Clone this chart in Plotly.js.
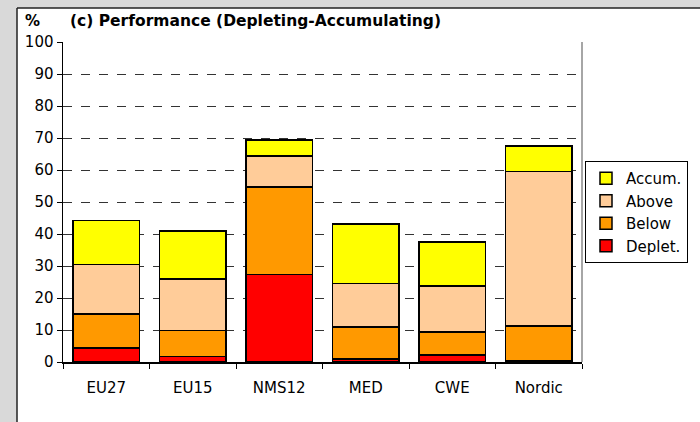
<!DOCTYPE html>
<html><head><meta charset="utf-8">
<script src="https://cdn.plot.ly/plotly-3.0.1.min.js"></script>
<style>html,body{margin:0;padding:0;background:#fff}#chart{width:700px;height:422px}</style>
</head><body><div id="chart"></div>
<script>
const categories = ["EU27", "EU15", "NMS12", "MED", "CWE", "Nordic"];
const depleting = [4.4, 1.7, 27.3, 0.9, 2.2, 0.5];
const below = [10.6, 8.1, 27.4, 10.1, 7.1, 10.8];
const above = [15.5, 16.1, 9.7, 13.6, 14.5, 48.3];
const accumulating = [13.7, 15.1, 4.9, 18.6, 13.7, 7.9];
const seriesNames = ["Deplet.", "Below", "Above", "Accum."];
const seriesColors = ["#ff0000", "#ff9900", "#ffcc99", "#ffff00"];
const seriesValues = [depleting, below, above, accumulating];

const traces = seriesValues.map((vals, i) => ({
  type: "bar", x: categories, y: vals, name: seriesNames[i],
  marker: {color: seriesColors[i], line: {color: "#000", width: 1.5}},
  hoverinfo: "skip"
}));

const L = 63, R = 118, T = 42, B = 60, W = 700, H = 422;
const pw = W - L - R, ph = H - T - B;
const px = x => (x - L) / pw;
const py = y => (H - B - y) / ph;

const layout = {
  width: W, height: H,
  margin: {l: L, r: R, t: T, b: B, pad: 0},
  paper_bgcolor: "#d9d9d9", plot_bgcolor: "#ffffff",
  barmode: "stack", bargap: 0.23,
  font: {family: "DejaVu Sans, sans-serif", size: 15, color: "#000"},
  title: {text: "<b>(c) Performance (Depleting-Accumulating)</b>", x: 70 / W, xanchor: "left", xref: "container",
          y: 1 - 21 / H, yanchor: "middle", yref: "container", font: {size: 15.5, color: "#000"}},
  xaxis: {type: "category", showline: true, linecolor: "#000", linewidth: 1.5, ticks: "outside", tickson: "boundaries",
          ticklen: 5, tickcolor: "#000", showgrid: false, fixedrange: true, tickfont: {size: 15}, ticklabelstandoff: 11},
  yaxis: {range: [0, 100], dtick: 10, showline: true, linecolor: "#000", linewidth: 1.5, ticks: "outside", ticklen: 5,
          tickcolor: "#000", showgrid: true, gridcolor: "#333", griddash: "dash", gridwidth: 1, zeroline: false,
          tickfont: {size: 15}, fixedrange: true},
  legend: {x: px(585), y: py(161), xanchor: "left", yanchor: "top", bgcolor: "#fff", bordercolor: "#000", borderwidth: 1,
           traceorder: "reversed", font: {size: 15}, itemwidth: 30, tracegroupgap: 0},
  showlegend: true,
  shapes: [
    {type: "rect", xref: "paper", yref: "paper", x0: px(17), x1: px(702), y0: py(424), y1: py(8), layer: "below",
     fillcolor: "#fff", line: {width: 0}},
    {type: "line", xref: "paper", yref: "paper", x0: px(17), x1: px(17), y0: py(424), y1: py(8), line: {color: "#222", width: 1.5}},
    {type: "line", xref: "paper", yref: "paper", x0: px(17), x1: px(702), y0: py(8), y1: py(8), line: {color: "#222", width: 1.5}},
    {type: "line", xref: "paper", yref: "paper", x0: 1, x1: 1, y0: 0, y1: 1, line: {color: "#888", width: 1.5}}
  ],
  annotations: [
    {text: "<b>%</b>", xref: "paper", yref: "paper", x: px(23), y: py(21), xanchor: "left", yanchor: "middle",
     showarrow: false, font: {size: 15}}
  ]
};
Plotly.newPlot("chart", traces, layout, {displayModeBar: false, staticPlot: true});
</script></body></html>
